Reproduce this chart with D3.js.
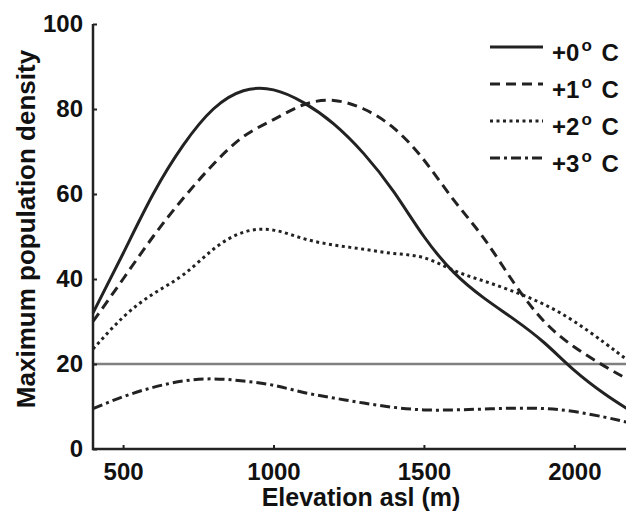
<!DOCTYPE html>
<html>
<head>
<meta charset="utf-8">
<script src="https://cdn.jsdelivr.net/npm/d3@7"></script>
<style>
  body { margin: 0; background: #fff; }
  text { font-family: "Liberation Sans", Arial, sans-serif; font-weight: bold; fill: #111; }
</style>
</head>
<body>
<svg class="chart"></svg>
<script>
const elevation = [400, 500, 600, 700, 800, 900, 1000, 1100, 1200, 1300, 1400, 1500, 1600, 1700, 1800, 1900, 2000, 2100, 2175];
const plus0 = [32, 46, 60, 71.5, 80, 84.3, 84.5, 81.5, 76.5, 69.5, 60.5, 50, 41.5, 35.5, 30.5, 25, 18.5, 13, 9.5];
const plus1 = [30, 40, 50, 59, 67, 73.5, 77.5, 81, 82, 80, 75.5, 68, 58.5, 49.5, 39, 30, 24, 19.5, 16.5];
const plus2 = [23.5, 31, 36.5, 41, 47, 51, 51.5, 49.5, 48, 47, 46, 45, 42, 39.5, 37, 34, 30, 25, 21];
const plus3 = [9.5, 12.3, 14.5, 16, 16.5, 16, 15, 13.3, 12, 10.8, 9.8, 9.2, 9.2, 9.4, 9.6, 9.5, 8.8, 7.5, 6.3];
const seriesNames = ['+0', '+1', '+2', '+3'];
const xTicks = [500, 1000, 1500, 2000];
const yTicks = [0, 20, 40, 60, 80, 100];
const threshold = 20;

const width = 626, height = 511;
const svg = d3.select('.chart').attr('width', width).attr('height', height);

const x = d3.scaleLinear().domain([400, 2175]).range([93, 627]);
const y = d3.scaleLinear().domain([0, 100]).range([449, 24]);

const ink = '#222';
const dashes = [null, '10,6', '3,3.5', '10,4,3,4'];
const allSeries = [plus0, plus1, plus2, plus3];

// reference line at 20
svg.append('line')
    .attr('x1', x(400)).attr('x2', width)
    .attr('y1', y(threshold)).attr('y2', y(threshold))
    .attr('stroke', '#808080').attr('stroke-width', 2.5);

const line = d3.line()
    .x(d => x(d[0]))
    .y(d => y(d[1]))
    .curve(d3.curveNatural);

const plot = svg.append('g');
allSeries.forEach((vals, i) => {
    plot.append('path')
        .datum(elevation.map((e, j) => [e, vals[j]]))
        .attr('d', line)
        .attr('fill', 'none')
        .attr('stroke', ink)
        .attr('stroke-width', 3)
        .attr('stroke-dasharray', dashes[i]);
});

// axes
const xAxis = svg.append('g').attr('transform', `translate(0,${y(0)})`)
    .call(d3.axisBottom(x).tickValues(xTicks).tickSize(-4).tickPadding(14).tickFormat(d3.format('d')));
const yAxis = svg.append('g').attr('transform', `translate(${x(400)},0)`)
    .call(d3.axisLeft(y).tickValues(yTicks).tickSize(-4).tickPadding(10).tickFormat(d3.format('d')));

[xAxis, yAxis].forEach(a => {
    a.select('.domain').remove();
    a.selectAll('.tick line').attr('stroke', ink).attr('stroke-width', 2);
    a.selectAll('.tick text').style('font-size', '24px').attr('fill', '#111');
});
svg.append('path')
    .attr('d', `M${x(400)},${y(100)}V${y(0)}H${width}`)
    .attr('fill', 'none').attr('stroke', ink).attr('stroke-width', 2.5);

// axis titles
svg.append('text')
    .attr('x', 361).attr('y', 506)
    .attr('text-anchor', 'middle')
    .style('font-size', '25px')
    .text('Elevation asl (m)');

svg.append('text')
    .attr('transform', 'translate(35,229) rotate(-90)')
    .attr('text-anchor', 'middle')
    .style('font-size', '26px')
    .text('Maximum population density');

// legend
const legend = svg.append('g');
seriesNames.forEach((name, i) => {
    const ly = 47 + i * 37;
    legend.append('line')
        .attr('x1', 490).attr('x2', 543)
        .attr('y1', ly).attr('y2', ly)
        .attr('stroke', ink).attr('stroke-width', 3)
        .attr('stroke-dasharray', dashes[i]);
    const t = legend.append('text')
        .attr('x', 552).attr('y', ly + 14)
        .style('font-size', '24px');
    t.append('tspan').text(name);
    t.append('tspan').attr('dx', 2).attr('dy', -10).style('font-size', '17px').text('o');
    t.append('tspan').attr('dx', 3).attr('dy', 10).text(' C');
});
</script>
</body>
</html>
